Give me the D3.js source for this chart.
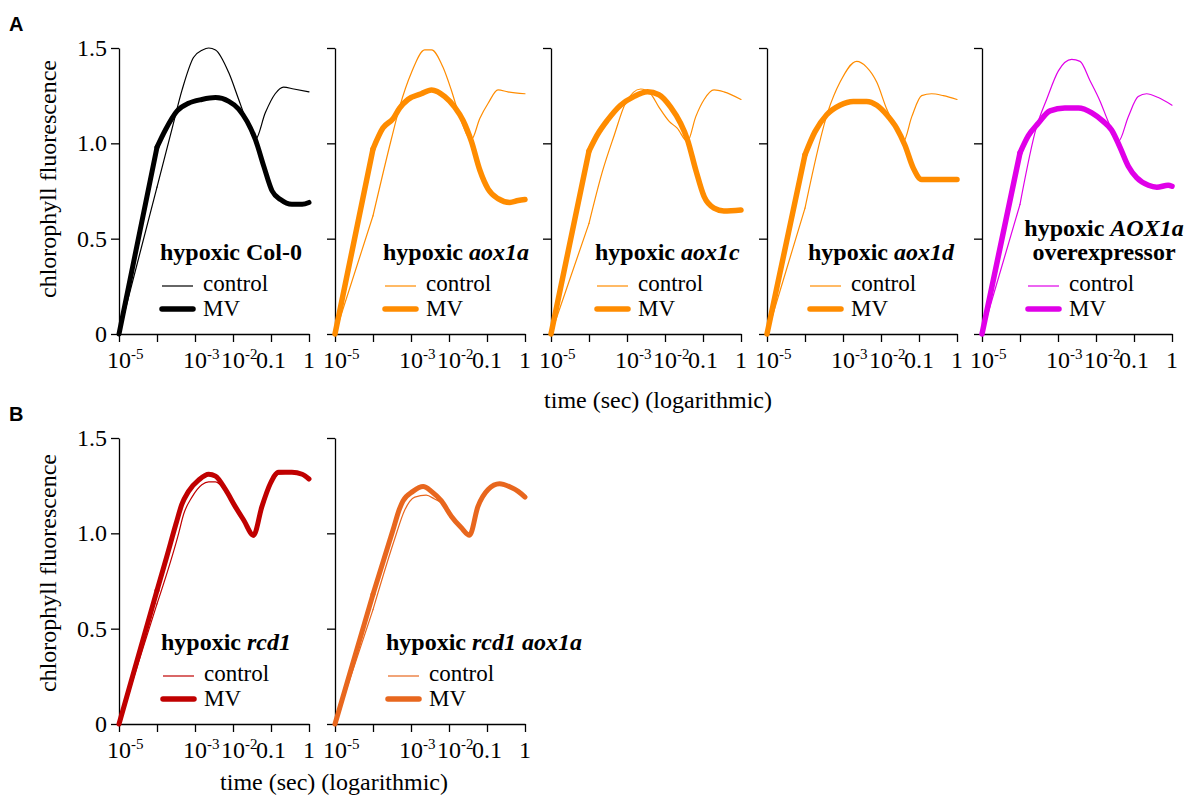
<!DOCTYPE html>
<html><head><meta charset="utf-8">
<script src="https://cdn.jsdelivr.net/npm/d3@7"></script>
<style>
body{margin:0;background:#fff}
svg text{font-family:"Liberation Serif","Times New Roman",serif;fill:#000}
</style>
</head><body>
<svg id="chart" width="1190" height="799"></svg>
<script>
// ---------- data (log10 time in s, relative chlorophyll fluorescence) ----------
const xTickExps   = [-5, -4, -3, -2, -1, 0];
const xTickBase   = ["10", "", "10", "10", "0.1", "1"];
const xTickSup    = ["-5", "", "-3", "-2", "", ""];
const yTicks      = [0, 0.5, 1.0, 1.5];
const yTickLabels = ["0", "0.5", "1.0", "1.5"];
const legendLabels = ["control", "MV"];

const col0Control = [[-5,0],[-4,0.77],[-3.6,1.08],[-3.34,1.28],[-3.04,1.45],[-2.8,1.49],[-2.64,1.50],[-2.46,1.49],[-2.11,1.37],[-1.85,1.23],[-1.63,1.11],[-1.41,1.02],[-1.15,1.16],[-0.89,1.26],[-0.67,1.295],[-0.40,1.285],[0,1.27]];
const col0MV      = [[-5,0],[-4,0.98],[-3.78,1.07],[-3.47,1.17],[-3.17,1.21],[-2.82,1.23],[-2.46,1.24],[-2.11,1.22],[-1.85,1.18],[-1.63,1.115],[-1.41,1.02],[-1.19,0.88],[-0.97,0.75],[-0.75,0.705],[-0.45,0.68],[-0.18,0.68],[0,0.69]];

const aox1aControl = [[-5,0],[-4,0.62],[-3.52,1.02],[-3.30,1.19],[-2.99,1.37],[-2.64,1.49],[-2.46,1.49],[-2.16,1.40],[-1.94,1.28],[-1.72,1.14],[-1.41,1.02],[-1.19,1.13],[-0.97,1.21],[-0.71,1.28],[-0.45,1.27],[0,1.26]];
const aox1aMV      = [[-5,0],[-4,0.97],[-3.74,1.08],[-3.47,1.13],[-3.30,1.185],[-3.08,1.23],[-2.73,1.26],[-2.46,1.28],[-2.11,1.245],[-1.85,1.19],[-1.63,1.12],[-1.41,1.01],[-1.19,0.86],[-0.97,0.76],[-0.71,0.71],[-0.40,0.69],[-0.18,0.70],[0,0.705]];

const aox1cControl = [[-5,0],[-4,0.58],[-3.65,0.85],[-3.34,1.04],[-3.04,1.21],[-2.64,1.285],[-2.38,1.26],[-2.16,1.19],[-1.89,1.115],[-1.68,1.08],[-1.41,1.01],[-1.19,1.14],[-0.97,1.23],[-0.71,1.28],[-0.45,1.27],[0,1.23]];
const aox1cMV      = [[-5,0],[-4,0.96],[-3.78,1.045],[-3.52,1.12],[-3.17,1.20],[-2.82,1.245],[-2.46,1.27],[-2.16,1.255],[-1.85,1.19],[-1.59,1.105],[-1.41,1.02],[-1.19,0.86],[-0.97,0.72],[-0.71,0.66],[-0.45,0.645],[0,0.65]];

const aox1dControl = [[-5,0],[-4,0.66],[-3.39,1.17],[-3.08,1.32],[-2.64,1.43],[-2.38,1.40],[-2.11,1.32],[-1.85,1.18],[-1.63,1.09],[-1.41,1.01],[-1.19,1.14],[-0.93,1.25],[-0.67,1.26],[-0.36,1.25],[0,1.23]];
const aox1dMV      = [[-5,0],[-4,0.94],[-3.74,1.06],[-3.43,1.15],[-3.08,1.20],[-2.73,1.22],[-2.38,1.22],[-2.11,1.20],[-1.85,1.15],[-1.59,1.08],[-1.37,0.99],[-1.15,0.87],[-0.93,0.81],[-0.62,0.81],[0,0.81]];

const aoxOEControl = [[-5,0],[-4,0.68],[-3.56,1.09],[-3.30,1.23],[-2.99,1.38],[-2.64,1.44],[-2.42,1.43],[-2.16,1.33],[-1.89,1.22],[-1.68,1.115],[-1.41,1.01],[-1.15,1.14],[-0.89,1.245],[-0.67,1.26],[-0.36,1.24],[0,1.20]];
const aoxOEMV      = [[-5,0],[-4,0.95],[-3.78,1.04],[-3.52,1.105],[-3.21,1.17],[-2.82,1.185],[-2.46,1.185],[-2.11,1.16],[-1.81,1.115],[-1.59,1.07],[-1.37,0.98],[-1.15,0.88],[-0.93,0.82],[-0.62,0.78],[-0.40,0.77],[-0.10,0.78],[0,0.775]];

const rcd1Control = [[-5,0],[-4,0.63],[-3.43,1.00],[-3.30,1.10],[-3.08,1.19],[-2.82,1.255],[-2.64,1.27],[-2.46,1.27],[-2.20,1.22],[-1.94,1.13],[-1.72,1.06],[-1.46,0.98],[-1.24,1.13],[-1.02,1.25],[-0.80,1.31],[-0.45,1.315],[-0.18,1.305],[0,1.28]];
const rcd1MV      = [[-5,0],[-4,0.70],[-3.74,0.88],[-3.50,1.05],[-3.35,1.15],[-3.17,1.22],[-2.90,1.28],[-2.64,1.31],[-2.46,1.30],[-2.20,1.23],[-1.94,1.14],[-1.72,1.07],[-1.46,0.99],[-1.24,1.14],[-1.02,1.26],[-0.80,1.32],[-0.45,1.32],[-0.18,1.31],[0,1.285]];

const rcd1aoxControl = [[-5,0],[-4,0.60],[-3.43,0.97],[-3.17,1.12],[-2.90,1.19],[-2.60,1.20],[-2.38,1.18],[-2.20,1.16],[-1.94,1.085],[-1.68,1.025],[-1.46,0.985],[-1.24,1.135],[-0.97,1.225],[-0.67,1.255],[-0.36,1.235],[-0.18,1.215],[0,1.185]];
const rcd1aoxMV      = [[-5,0],[-4,0.68],[-3.47,1.02],[-3.30,1.13],[-3.21,1.17],[-2.95,1.22],[-2.68,1.245],[-2.46,1.22],[-2.20,1.17],[-1.94,1.09],[-1.68,1.03],[-1.46,0.99],[-1.24,1.14],[-0.97,1.23],[-0.67,1.26],[-0.36,1.24],[-0.18,1.22],[0,1.19]];

// panel titles: [text, italic]
const titleCol0   = [[["hypoxic Col-0", false]]];
const titleAox1a  = [[["hypoxic ", false], ["aox1a", true]]];
const titleAox1c  = [[["hypoxic ", false], ["aox1c", true]]];
const titleAox1d  = [[["hypoxic ", false], ["aox1d", true]]];
const titleAoxOE  = [[["hypoxic ", false], ["AOX1a", true]], [["overexpressor", false]]];
const titleRcd1   = [[["hypoxic ", false], ["rcd1", true]]];
const titleRcd1Ax = [[["hypoxic ", false], ["rcd1 aox1a", true]]];

const colors = ["#000000", "#ff8c00", "#ff8c00", "#ff8c00", "#e000e8", "#c00000", "#e8671e"];

// ---------- layout ----------
const svg = d3.select("#chart");
const PW = 190;
const panels = [
  {x0:119, top:48,  bot:334, ctrl:col0Control,  mv:col0MV,  title:titleCol0,  color:colors[0], lx:41, yLabels:true, thick:5},
  {x0:335, top:48,  bot:334, ctrl:aox1aControl, mv:aox1aMV, title:titleAox1a, color:colors[1], lx:48, thick:5.5},
  {x0:551, top:48,  bot:334, ctrl:aox1cControl, mv:aox1cMV, title:titleAox1c, color:colors[2], lx:44, thick:5.5},
  {x0:767, top:48,  bot:334, ctrl:aox1dControl, mv:aox1dMV, title:titleAox1d, color:colors[3], lx:41, thick:5.5},
  {x0:982, top:48,  bot:334, ctrl:aoxOEControl, mv:aoxOEMV, title:titleAoxOE, color:colors[4], lx:44, thick:5.5, centerTitle:1104},
  {x0:119, top:438, bot:724, ctrl:rcd1Control,  mv:rcd1MV,  title:titleRcd1,  color:colors[5], lx:42, yLabels:true, thick:5},
  {x0:335, top:438, bot:724, ctrl:rcd1aoxControl, mv:rcd1aoxMV, title:titleRcd1Ax, color:colors[6], lx:51, thick:5},
];

panels.forEach(p => {
  const x = d3.scaleLog().domain([1e-5, 1]).range([p.x0, p.x0 + PW]);
  const y = d3.scaleLinear().domain([0, 1.5]).range([p.bot, p.top]);
  const g = svg.append("g");

  // axes
  const ya = d3.axisLeft(y).tickValues(yTicks).tickSize(8).tickSizeOuter(0).tickFormat("");
  g.append("g").attr("transform", `translate(${p.x0},0)`).call(ya)
    .call(s => s.selectAll("path,line").attr("stroke", "#000").attr("stroke-width", 1.3));
  const xa = d3.axisBottom(x).tickValues(xTickExps.map(e => Math.pow(10, e))).tickSize(8).tickSizeOuter(0).tickFormat("");
  g.append("g").attr("transform", `translate(0,${p.bot})`).call(xa)
    .call(s => s.selectAll("path,line").attr("stroke", "#000").attr("stroke-width", 1.3));

  if (p.yLabels) {
    yTicks.forEach((v, i) => {
      g.append("text").attr("x", p.x0 - 12).attr("y", y(v)).attr("dy", "0.33em")
        .attr("text-anchor", "end").attr("font-size", 24).text(yTickLabels[i]);
    });
  }
  xTickExps.forEach((e, i) => {
    const tx = x(Math.pow(10, e));
    if (!xTickBase[i]) return;
    if (xTickSup[i]) {
      const t = g.append("text").attr("x", tx - 12).attr("y", p.bot + 34).attr("font-size", 24);
      t.append("tspan").text(xTickBase[i]);
      t.append("tspan").attr("font-size", 15).attr("dy", -9).text(xTickSup[i]);
    } else {
      g.append("text").attr("x", tx).attr("y", p.bot + 34).attr("text-anchor", "middle")
        .attr("font-size", 24).text(xTickBase[i]);
    }
  });

  // curves: straight first segment, smooth afterwards
  const lineLin = d3.line().x(d => x(Math.pow(10, d[0]))).y(d => y(d[1]));
  const lineSm = d3.line().x(d => x(Math.pow(10, d[0]))).y(d => y(d[1])).curve(d3.curveMonotoneX);
  const drawCurve = (data, w) => {
    g.append("path").attr("d", lineLin(data.slice(0, 2))).attr("fill", "none")
      .attr("stroke", p.color).attr("stroke-width", w).attr("stroke-linecap", "round").attr("stroke-linejoin", "round");
    g.append("path").attr("d", lineSm(data.slice(1))).attr("fill", "none")
      .attr("stroke", p.color).attr("stroke-width", w).attr("stroke-linecap", "round").attr("stroke-linejoin", "round");
  };
  drawCurve(p.mv, p.thick);
  drawCurve(p.ctrl, 1.2);

  // legend
  const lx = p.x0 + p.lx;
  const nT = p.title.length;
  p.title.forEach((line, li) => {
    const ty = p.bot - 74 - (nT - 1 - li) * 24;
    const t = g.append("text").attr("y", ty).attr("font-size", 24).attr("font-weight", "bold");
    if (p.centerTitle) t.attr("x", p.centerTitle).attr("text-anchor", "middle");
    else t.attr("x", lx);
    line.forEach(seg => t.append("tspan").attr("font-style", seg[1] ? "italic" : "normal").text(seg[0]));
  });
  [[p.bot - 48, 1.2], [p.bot - 25, 5.5]].forEach((r, i) => {
    g.append("line").attr("x1", lx + 2).attr("x2", lx + 33).attr("y1", r[0]).attr("y2", r[0])
      .attr("stroke", p.color).attr("stroke-width", r[1]).attr("stroke-linecap", i ? "round" : "butt");
    g.append("text").attr("x", lx + 43).attr("y", r[0] + (i ? 7 : 5)).attr("font-size", 23).text(legendLabels[i]);
  });
});

// axis titles
svg.append("text").attr("transform", "translate(56,179) rotate(-90)").attr("text-anchor", "middle")
  .attr("font-size", 24).text("chlorophyll fluorescence");
svg.append("text").attr("transform", "translate(56,573) rotate(-90)").attr("text-anchor", "middle")
  .attr("font-size", 24).text("chlorophyll fluorescence");
svg.append("text").attr("x", 658).attr("y", 408).attr("text-anchor", "middle").attr("font-size", 24).text("time (sec) (logarithmic)");
svg.append("text").attr("x", 334).attr("y", 790).attr("text-anchor", "middle").attr("font-size", 24).text("time (sec) (logarithmic)");

// panel letters
svg.append("text").attr("x", 9).attr("y", 31).attr("font-size", 20).attr("font-weight", "bold")
  .style("font-family", "'Liberation Sans', Arial, sans-serif").text("A");
svg.append("text").attr("x", 9).attr("y", 421).attr("font-size", 20).attr("font-weight", "bold")
  .style("font-family", "'Liberation Sans', Arial, sans-serif").text("B");
</script>
</body></html>
